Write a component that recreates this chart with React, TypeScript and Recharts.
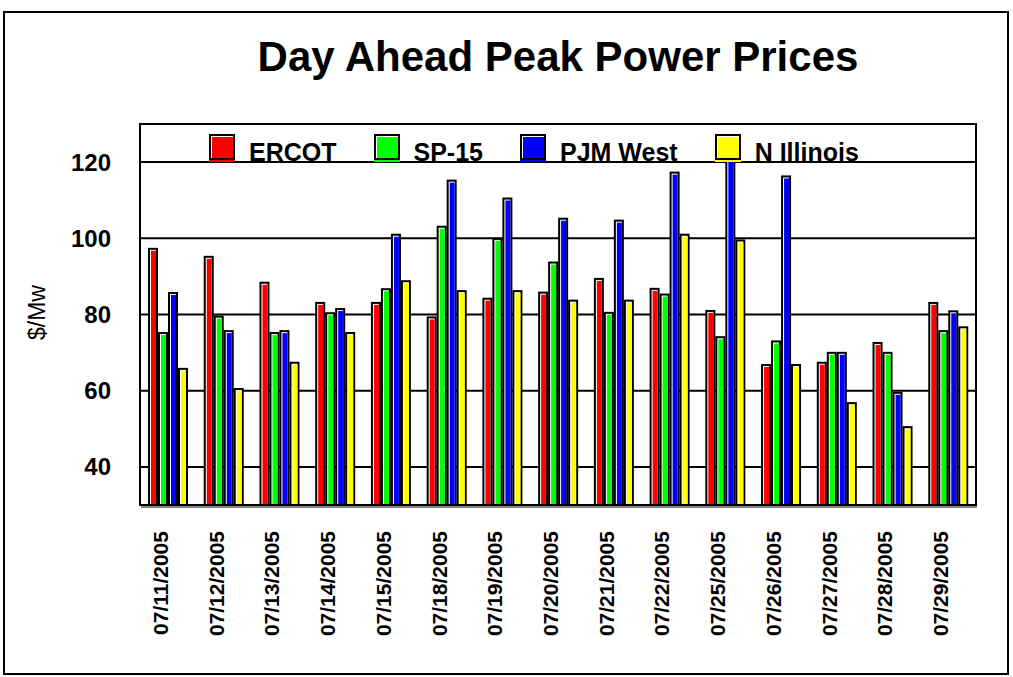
import React from "react";
import { BarChart, Bar, XAxis, YAxis, CartesianGrid } from "recharts";

const dates = [
  "07/11/2005", "07/12/2005", "07/13/2005", "07/14/2005", "07/15/2005",
  "07/18/2005", "07/19/2005", "07/20/2005", "07/21/2005", "07/22/2005",
  "07/25/2005", "07/26/2005", "07/27/2005", "07/28/2005", "07/29/2005",
];
const ercot = [97.5, 95.4, 88.6, 83.3, 83.3, 79.5, 84.4, 86.0, 89.6, 87.0, 81.2, 67.0, 67.6, 72.8, 83.3];
const sp15 = [75.4, 79.7, 75.4, 80.6, 86.9, 103.3, 100.1, 93.9, 80.7, 85.5, 74.3, 73.2, 70.2, 70.2, 75.9];
const pjmWest = [85.9, 75.9, 75.9, 81.7, 101.2, 115.4, 110.7, 105.4, 104.9, 117.5, 121.0, 116.5, 70.2, 59.7, 81.1];
const nIllinois = [66.0, 60.7, 67.6, 75.4, 89.0, 86.4, 86.4, 83.9, 83.9, 101.2, 99.7, 67.0, 57.0, 50.7, 76.9];
const yTicks = [40, 60, 80, 100, 120];

const seriesNames = ["ERCOT", "SP-15", "PJM West", "N Illinois"];
const seriesKeys = ["ercot", "sp15", "pjmWest", "nIllinois"];
const seriesColors = ["#FF0000", "#00FF00", "#0000FF", "#FFFF00"];

const data = dates.map((d, i) => ({
  date: d,
  ercot: ercot[i],
  sp15: sp15[i],
  pjmWest: pjmWest[i],
  nIllinois: nIllinois[i],
}));

const FONT = "'Liberation Sans', Arial, Helvetica, sans-serif";

function Bar3D(props: any) {
  const { x, y, width, height, fill } = props;
  if (!height || height <= 0) return null;
  return (
    <g>
      <rect x={x} y={y} width={width} height={height} fill="#000" />
      <rect x={x + 2} y={y + 2} width={Math.max(width - 4, 0)} height={Math.max(height - 2, 0)} fill="#fff" />
      <rect x={x + 3} y={y + 3} width={Math.max(width - 5, 0)} height={Math.max(height - 3, 0)} fill={fill} />
    </g>
  );
}

function DateTick(props: any) {
  const { x, y, payload } = props;
  const ty = y + 18;
  return (
    <text
      x={x}
      y={ty}
      transform={`rotate(-90, ${x}, ${ty})`}
      textAnchor="end"
      fontFamily={FONT}
      fontWeight="bold"
      fontSize={21}
      fill="#000"
    >
      {payload.value}
    </text>
  );
}

function LegendSwatch({ color }: { color: string }) {
  return (
    <svg width={26} height={28} style={{ display: "block" }}>
      <rect x={0} y={0} width={26} height={26} fill="#000" />
      <rect x={2} y={2} width={22} height={22} fill="#fff" />
      <rect x={3} y={3} width={21} height={21} fill={color} />
      <rect x={0} y={26} width={26} height={2} fill={color} />
    </svg>
  );
}

export default function App() {
  return (
    <div
      style={{
        position: "absolute",
        left: 0,
        top: 0,
        width: 1013,
        height: 677,
        background: "#fff",
        fontFamily: FONT,
      }}
    >
      {/* outer border */}
      <div
        style={{
          position: "absolute",
          left: 3,
          top: 11,
          width: 1006,
          height: 664,
          border: "2px solid #000",
          boxSizing: "border-box",
        }}
      />
      {/* title */}
      <div
        style={{
          position: "absolute",
          left: 140,
          top: 36,
          width: 836,
          textAlign: "center",
          fontSize: 42,
          lineHeight: "42px",
          fontWeight: "bold",
          color: "#000",
        }}
      >
        Day Ahead Peak Power Prices
      </div>

      <div style={{ position: "absolute", left: 0, top: 0 }}>
        <BarChart
          width={1013}
          height={677}
          data={data}
          margin={{ top: 124, right: 37, bottom: 42, left: 40 }}
          barCategoryGap="14%"
          barGap={0}
          barSize={10}
        >
          <CartesianGrid vertical={false} stroke="#000" strokeWidth={2} />
          <XAxis
            dataKey="date"
            interval={0}
            height={130}
            axisLine={false}
            tickLine={false}
            tick={<DateTick />}
          />
          <YAxis
            width={100}
            domain={[30, 130]}
            ticks={yTicks}
            allowDataOverflow
            axisLine={false}
            tickLine={false}
            tickSize={0}
            tickMargin={29}
            tick={{ fontFamily: FONT, fontWeight: "bold", fontSize: 24, fill: "#000" }}
          />
          {seriesKeys.map((k, i) => (
            <Bar
              key={k}
              dataKey={k}
              name={seriesNames[i]}
              fill={seriesColors[i]}
              shape={<Bar3D />}
              isAnimationActive={false}
            />
          ))}
        </BarChart>
      </div>

      {/* plot frame */}
      <div
        style={{
          position: "absolute",
          left: 139,
          top: 123,
          width: 838,
          height: 383,
          border: "2px solid #000",
          boxSizing: "border-box",
        }}
      />
      <div
        style={{
          position: "absolute",
          left: 141,
          top: 506,
          width: 836,
          height: 2,
          background: "#888",
        }}
      />

      {/* y label */}
      <div
        style={{
          position: "absolute",
          left: -13,
          top: 301,
          width: 100,
          height: 23,
          textAlign: "center",
          fontSize: 23,
          lineHeight: "23px",
          color: "#000",
          transform: "rotate(-90deg)",
        }}
      >
        $/Mw
      </div>

      {/* legend */}
      <div
        style={{
          position: "absolute",
          left: 209,
          top: 134,
          display: "flex",
          alignItems: "flex-start",
        }}
      >
        {seriesNames.map((n, i) => (
          <div
            key={n}
            style={{ display: "flex", alignItems: "flex-start", marginRight: 37 }}
          >
            <LegendSwatch color={seriesColors[i]} />
            <span
              style={{
                marginLeft: 14,
                fontSize: 25,
                lineHeight: "25px",
                fontWeight: "bold",
                color: "#000",
                position: "relative",
                top: 6,
                whiteSpace: "nowrap",
              }}
            >
              {n}
            </span>
          </div>
        ))}
      </div>
    </div>
  );
}
